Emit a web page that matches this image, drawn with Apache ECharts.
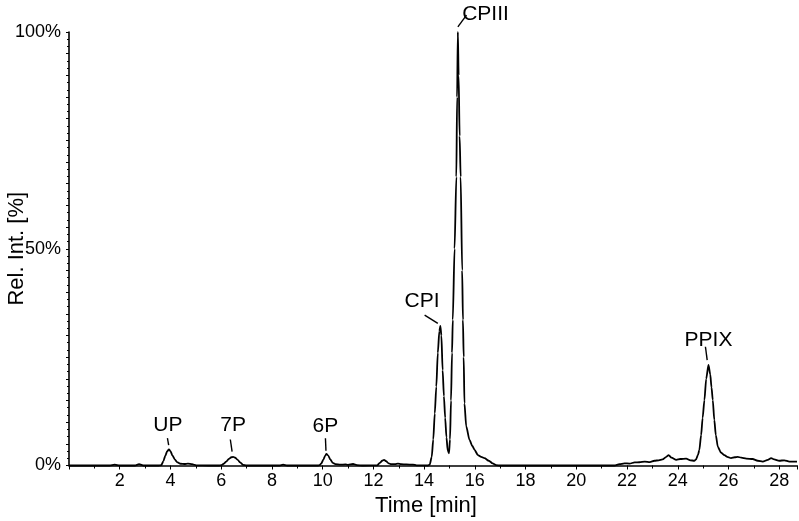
<!DOCTYPE html>
<html>
<head>
<meta charset="utf-8">
<script src="https://cdn.jsdelivr.net/npm/echarts@6/dist/echarts.min.js"></script>
<style>html,body{margin:0;padding:0;background:#fff;}#c{width:799px;height:521px;}</style>
</head>
<body>
<div id="c"></div>
<script>
// Chromatogram samples: retention time (min) and relative intensity (%)
var times = [0,0.5,1.0,1.6,1.8,2.0,2.6,2.76,2.95,3.5,3.64,
  3.72,3.8,3.87,3.94,4.0,4.08,4.17,4.26,4.4,4.55,4.69,4.85,5.02,
  5.5,5.9,6.01,6.1,6.2,6.3,6.4,6.47,6.55,6.65,6.75,6.86,7.0,8.3,8.44,8.6,9.8,9.88,
  9.95,10.03,10.1,10.15,10.22,10.3,10.4,10.5,10.7,10.9,11.0,11.2,11.35,11.6,12.15,
  12.25,12.35,12.42,12.5,12.6,12.7,12.85,12.97,13.1,13.3,13.56,13.7,14.15,
  14.22,14.3,14.36,14.42,14.48,14.54,14.6,14.64,14.68,14.73,14.78,14.83,14.88,14.93,14.98,
  15.02,15.06,15.1,15.13,15.2,15.27,15.3,15.33,15.36,15.4,15.44,15.5,15.53,15.56,15.59,15.66,15.79,15.9,15.99,16.12,16.25,16.38,16.55,16.7,16.84,17.0,
  21.5,21.7,21.9,22.1,22.3,22.49,22.7,22.9,23.08,23.25,23.4,23.55,23.64,23.75,23.94,24.1,24.33,24.5,24.65,24.72,24.8,24.85,24.92,24.98,25.05,25.12,25.21,25.28,25.33,25.38,25.44,25.5,25.58,25.7,25.84,25.95,26.1,26.25,26.36,26.5,26.7,26.95,27.15,27.35,27.55,27.68,27.8,28.0,28.2,28.4,28.7];
var intensity = [0,0,0,0,0.2,0,0,0.3,0,0,0.1,
  1.0,2.3,3.3,3.7,3.3,2.3,1.4,0.8,0.4,0.35,0.45,0.3,0.05,
  0,0,0.1,0.4,0.9,1.5,1.9,2.0,1.8,1.3,0.7,0.15,0,0,0.2,0,0,0.1,
  0.5,1.4,2.3,2.65,2.3,1.4,0.6,0.3,0.2,0.25,0.15,0.35,0.1,0,0.05,
  0.6,1.1,1.3,1.0,0.5,0.3,0.3,0.45,0.3,0.25,0.2,0.05,0,
  0.2,2,6,12,18.2,26,31,32.2,30,22,16,11,6.5,3.5,2.8,
  6,15,26,33.6,50,66.6,85,100,90,76,66.6,45,33.6,25,14.3,9,5.9,4.5,3.6,2.4,2.0,1.7,1.1,0.5,0.1,0,
  0,0.3,0.5,0.45,0.7,0.75,0.9,0.8,1.1,1.2,1.4,2.0,2.4,1.8,1.3,1.5,1.6,1.2,1.1,1.4,2.5,3.6,7,11,15.1,20,23.2,21,18,15.1,10.5,7,4.3,3.0,2.4,2.0,1.7,1.9,2.0,1.8,1.6,1.5,1.1,0.9,1.3,1.7,1.4,1.1,1.2,0.9,0.9];

// Peak annotations (data coordinates)
var peakNames = ['UP','7P','6P','CPI','CPIII','PPIX'];
var labelTime = [3.9, 6.47, 10.11, 13.92, 16.42, 25.21];
var labelInt  = [9.3, 9.3, 9.0, 37.8, 104.2, 29.0];
var leaderFromTime = [3.88, 6.36, 10.11, 14.02, 15.67, 25.09];
var leaderFromInt  = [6.3, 6.0, 6.3, 34.7, 103.9, 27.4];
var leaderToTime   = [3.93, 6.43, 10.13, 14.54, 15.33, 25.16];
var leaderToInt    = [4.7, 3.2, 3.4, 32.8, 101.2, 24.3];

var xTicks = [2,4,6,8,10,12,14,16,18,20,22,24,26,28];
var yTickLabels = [0,50,100];

var seriesData = times.map(function(t,i){ return [t, intensity[i]]; });
var annoData = peakNames.map(function(n,i){
  return [labelTime[i], labelInt[i], leaderFromTime[i], leaderFromInt[i], leaderToTime[i], leaderToInt[i]];
});

var FONT = '"Liberation Sans", Arial, Helvetica, sans-serif';
var chart = echarts.init(document.getElementById('c'), null, {renderer:'canvas'});
chart.setOption({
  backgroundColor: '#fff',
  animation: false,
  grid: {left: 69, right: 2, top: 32, bottom: 55.5, containLabel: false, outerBoundsMode: 'none'},
  xAxis: {
    type: 'value', min: 0, max: 28.7, interval: 2,
    name: 'Time [min]', nameLocation: 'middle', nameGap: 29, nameMoveOverlap: false,
    nameTextStyle: {fontFamily: FONT, fontSize: 22, color: '#000', padding: [0, 14, 0, 0]},
    axisLine: {show: true, onZero: false, lineStyle: {color: '#000', width: 1.6}},
    axisTick: {show: true, length: 4, lineStyle: {color: '#000', width: 1}},
    minorTick: {show: true, splitNumber: 2, length: 3, lineStyle: {color: '#000', width: 1}},
    splitLine: {show: false},
    axisLabel: {
      fontFamily: FONT, fontSize: 18, color: '#000', margin: 7,
      showMinLabel: false, showMaxLabel: false,
      formatter: function(v){ return xTicks.indexOf(v) >= 0 ? String(v) : ''; }
    }
  },
  yAxis: {
    type: 'value', min: 0, max: 100, interval: 5,
    name: 'Rel. Int. [%]', nameLocation: 'middle', nameGap: 41, nameMoveOverlap: false,
    nameTextStyle: {fontFamily: FONT, fontSize: 22, color: '#000'},
    axisLine: {show: true, lineStyle: {color: '#000', width: 1.6}},
    axisTick: {show: true, length: 3, lineStyle: {color: '#000', width: 1}},
    minorTick: {show: true, splitNumber: 3, length: 2, lineStyle: {color: '#000', width: 1}},
    splitLine: {show: false},
    axisLabel: {
      fontFamily: FONT, fontSize: 18, color: '#000', margin: 8,
      formatter: function(v){ return yTickLabels.indexOf(v) >= 0 ? v + '%' : ''; }
    }
  },
  series: [
    {
      type: 'line', data: seriesData, showSymbol: false, symbol: 'none',
      smooth: 0.25, smoothMonotone: 'x',
      lineStyle: {color: '#000', width: 1.8}, clip: false
    },
    {
      type: 'custom', data: annoData, clip: false, silent: true,
      renderItem: function(params, api){
        var p = api.coord([api.value(0), api.value(1)]);
        var a = api.coord([api.value(2), api.value(3)]);
        var b = api.coord([api.value(4), api.value(5)]);
        return {
          type: 'group',
          children: [
            {type: 'line', shape: {x1: a[0], y1: a[1], x2: b[0], y2: b[1]},
             style: {stroke: '#000', lineWidth: 1.4}},
            {type: 'text', x: p[0], y: p[1],
             style: {text: peakNames[params.dataIndex], fill: '#000', font: '21px ' + FONT,
                     textAlign: 'center', textVerticalAlign: 'middle'}}
          ]
        };
      }
    }
  ]
});
</script>
</body>
</html>
